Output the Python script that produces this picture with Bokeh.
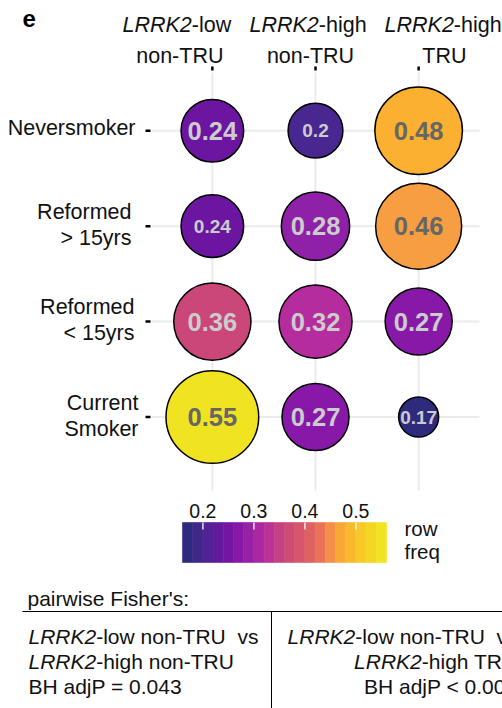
import numpy as np
from bokeh.plotting import figure
from bokeh.models import ColumnDataSource, Range1d, LinearColorMapper
from bokeh.transform import transform
from bokeh.core.properties import value
from bokeh.embed import file_html
from bokeh.resources import INLINE

# ---- data -------------------------------------------------------------
smoking = ["Neversmoker", "Reformed\n> 15yrs", "Reformed\n< 15yrs", "Current\nSmoker"]
groups = ["LRRK2-low non-TRU", "LRRK2-high non-TRU", "LRRK2-high TRU"]
gene = "LRRK2"

# row frequency of each smoking status within each group
freq_low_nontru = [0.24, 0.24, 0.36, 0.55]
freq_high_nontru = [0.20, 0.28, 0.32, 0.27]
freq_high_tru = [0.48, 0.46, 0.27, 0.17]

cbar_ticks = [0.2, 0.3, 0.4, 0.5]
cbar_title = ["row", "freq"]

fisher_title = "pairwise Fisher's:"
fisher_pairs = [("LRRK2-low non-TRU", "LRRK2-high non-TRU", "BH adjP = 0.043"),
                ("LRRK2-low non-TRU", "LRRK2-high TRU", "BH adjP < 0.001")]

# cells printed with a smaller label: (group index, status index)
small_cells = {(0, 1), (1, 0), (2, 3)}

all_freq = freq_low_nontru + freq_high_nontru + freq_high_tru
vmin, vmax = min(all_freq), max(all_freq)

# ---- colour scale: plasma in print tones --------------------------------
tone_stops = [0.0, 0.08, 0.18, 0.26, 0.29, 0.39, 0.50, 0.60, 0.68, 0.76, 0.82, 0.90, 1.0]
tone_cols = ["#2e2a7e", "#4a2790", "#6a15a0", "#8718a8", "#8f20a8", "#b42aa0",
             "#cb4878", "#da5a68", "#e86e5a", "#f69c42", "#fbb230", "#f9ca27", "#f0e321"]


def _rgb(h):
    return [int(h[i:i + 2], 16) for i in (1, 3, 5)]


_c = np.array([_rgb(h) for h in tone_cols], dtype=float)
_t = np.linspace(0, 1, 256)
palette = ["#%02x%02x%02x" % tuple(int(round(np.interp(t, tone_stops, _c[:, k]))) for k in range(3))
           for t in _t]
mapper = LinearColorMapper(palette=palette, low=vmin, high=vmax)

# area scale for bubble diameters (px)
D_MIN, D_MAX = 40.0, 92.7


def diameter(v):
    return D_MIN + (D_MAX - D_MIN) * np.sqrt((v - vmin) / (vmax - vmin))


# ---- long-form table ---------------------------------------------------
xs, ys, vs, ds, labs, fss, tcs = [], [], [], [], [], [], []
for gi, col in enumerate([freq_low_nontru, freq_high_nontru, freq_high_tru]):
    for si, v in enumerate(col):
        xs.append(gi)
        ys.append(si)
        vs.append(v)
        ds.append(diameter(v))
        labs.append(f"{v:g}")
        fss.append("19px" if (gi, si) in small_cells else "25.5px")
        tcs.append("#666666" if v >= 0.4 else "#cccccc")

src = ColumnDataSource(dict(x=xs, y=ys, v=vs, d=ds, lab=labs, fs=fss, tc=tcs))

FONT = "Liberation Sans"
INK = "#111111"


def mid(baseline, fs):
    """vertical centre of a text line whose alphabetic baseline is given (px)"""
    return baseline - 0.35 * fs


# ---- canvas -------------------------------------------------------------
W, H = 502, 708
p = figure(width=W, height=H, x_range=Range1d(0, W), y_range=Range1d(H, 0),
           output_backend="svg", toolbar_location=None, min_border=0,
           x_axis_type=None, y_axis_type=None, outline_line_color=None,
           background_fill_color="white", border_fill_color="white")

# bubble panel geometry (px) and its category scales
FL, FT, FW, FH = 151, 72, 328, 418
GX0, GX1 = -0.59, len(groups) - 1 + 0.59          # group axis limits
SY0, SY1 = -0.61, len(smoking) - 1 + 0.77         # status axis limits (top, bottom)
PX_G = FW / (GX1 - GX0)
PX_S = FH / (SY1 - SY0)
p.extra_x_ranges = {"grp": Range1d(GX0 - FL / PX_G, GX1 + (W - FL - FW) / PX_G)}
p.extra_y_ranges = {"status": Range1d(SY1 + (H - FT - FH) / PX_S, SY0 - FT / PX_S)}
CAT = dict(x_range_name="grp", y_range_name="status")

gidx = list(range(len(groups)))
sidx = list(range(len(smoking)))

# grid lines
p.segment(x0=gidx, x1=gidx, y0=[SY0] * len(gidx), y1=[SY1] * len(gidx),
          line_color="#ebebeb", line_width=2, **CAT)
p.segment(x0=[GX0] * len(sidx), x1=[GX1] * len(sidx), y0=sidx, y1=sidx,
          line_color="#ebebeb", line_width=2, **CAT)

# axis ticks
p.segment(x0=[GX0 - 6 / PX_G] * len(sidx), x1=[GX0 - 1 / PX_G] * len(sidx), y0=sidx, y1=sidx,
          line_color="black", line_width=2.5, **CAT)
p.segment(x0=gidx, x1=gidx, y0=[SY0 - 6 / PX_S] * len(gidx), y1=[SY0 - 2 / PX_S] * len(gidx),
          line_color="black", line_width=2.5, **CAT)

# bubbles and their labels
p.scatter(x="x", y="y", size="d", fill_color=transform("v", mapper),
          line_color="black", line_width=1.5, source=src, **CAT)
p.text(x="x", y="y", text="lab", text_font_size="fs", text_color="tc",
       text_align="center", text_baseline="middle", text_font=value(FONT),
       text_font_style="bold", source=src, **CAT)

# column headers: italic gene name + plain remainder
HFS = 21.5
HF = dict(text_font=value(FONT), text_font_size=f"{HFS}px", text_color=INK,
          text_baseline="middle", x_range_name="grp")
head_split_off = [-20.6, 3.3, 35.2]
head_line2_off = [-32.5, -5.0, 25.7]
firsts = [g.split(" ", 1)[0] for g in groups]
seconds = [g.split(" ", 1)[1] for g in groups]
y1, y2 = mid(32.3, HFS), mid(63.3, HFS)
p.text(x=gidx, y=[y1] * len(gidx), x_offset=head_split_off, text=[gene] * len(gidx),
       text_align="right", text_font_style="italic", **HF)
p.text(x=gidx, y=[y1] * len(gidx), x_offset=head_split_off,
       text=[f[len(gene):] for f in firsts], text_align="left", **HF)
p.text(x=gidx, y=[y2] * len(gidx), x_offset=head_line2_off, text=seconds,
       text_align="center", **HF)

# row labels, right aligned left of the panel
row_right = [135, 131, 134, 138]
rl_x, rl_y, rl_t = [], [], []
for si, s in enumerate(smoking):
    lines = s.split("\n")
    offs = [4.8] if len(lines) == 1 else [-6.6, 19.2]
    for line, o in zip(lines, offs):
        rl_x.append(row_right[si])
        rl_y.append(si + (o - 0.35 * HFS) / PX_S)
        rl_t.append(line)
p.text(x=rl_x, y=rl_y, text=rl_t, text_align="right", text_baseline="middle",
       text_font=value(FONT), text_font_size=f"{HFS}px", text_color=INK,
       y_range_name="status")

# panel letter
p.text(x=[22], y=[mid(26, 24)], text=["e"], text_font=value(FONT), text_font_style="bold",
       text_font_size="24px", text_align="left", text_baseline="middle",
       text_color="black")

# ---- colour bar ----------------------------------------------------------
NB = 20
band_vals = np.linspace(vmin, vmax, NB)
bw = (vmax - vmin) / (NB - 1)
lo, hi = vmin - bw / 2, vmax + bw / 2
BAR_L, BAR_R, BAR_T, BAR_B = 182, 386, 522, 562
span = (hi - lo) / (BAR_R - BAR_L)
p.extra_x_ranges["freq"] = Range1d(lo - BAR_L * span, hi + (W - BAR_R) * span)

bsrc = ColumnDataSource(dict(left=band_vals - bw / 2, right=band_vals + bw / 2, v=band_vals))
p.quad(left="left", right="right", top=BAR_T, bottom=BAR_B, source=bsrc,
       fill_color=transform("v", mapper), line_color=transform("v", mapper),
       line_width=0.6, x_range_name="freq")
p.segment(x0=cbar_ticks, x1=cbar_ticks, y0=[BAR_T] * len(cbar_ticks),
          y1=[BAR_T + 7] * len(cbar_ticks), line_color="white", line_alpha=0.85,
          line_width=1.5, x_range_name="freq")
p.text(x=cbar_ticks, y=[mid(517, 19.5)] * len(cbar_ticks), text=[f"{t:g}" for t in cbar_ticks],
       x_range_name="freq", text_align="center", text_baseline="middle",
       text_font=value(FONT), text_font_size="19.5px", text_color=INK)
p.text(x=[404, 404], y=[mid(535, 20.5), mid(558, 20.5)], text=cbar_title, text_align="left",
       text_baseline="middle", text_font=value(FONT), text_font_size="20.5px",
       text_color=INK)

# ---- pairwise test table --------------------------------------------------
TFS = 21
TF = dict(text_baseline="middle", text_font=value(FONT), text_font_size=f"{TFS}px",
          text_color=INK)
RULE_Y = 611
p.text(x=[27], y=[mid(605, TFS)], text=[fisher_title], text_align="left", **TF)
p.segment(x0=[22, 271], y0=[RULE_Y, RULE_Y], x1=[W, 271], y1=[RULE_Y, H],
          line_color="black", line_width=1)

base = [mid(b, TFS) for b in (643, 668, 693)]
W_GENE = 67.7
# left cell: left aligned
a, b, res = fisher_pairs[0]
p.text(x=[28, 28], y=base[:2], text=[gene, gene], text_align="left",
       text_font_style="italic", **TF)
p.text(x=[28 + W_GENE] * 2, y=base[:2],
       text=[a[len(gene):] + " \u00a0vs", b[len(gene):]], text_align="left", **TF)
p.text(x=[28], y=[base[2]], text=[res], text_align="left", **TF)
# right cell: right aligned (runs past the edge)
a, b, res = fisher_pairs[1]
RX = 517
rest_w = [162.2, 95.7]
p.text(x=[RX, RX], y=base[:2], text=[a[len(gene):] + " \u00a0vs", b[len(gene):]],
       text_align="right", **TF)
p.text(x=[RX - rest_w[0], RX - rest_w[1]], y=base[:2], text=[gene, gene],
       text_align="right", text_font_style="italic", **TF)
p.text(x=[RX], y=[base[2]], text=[res], text_align="right", **TF)

open("out.html", "w").write(file_html(p, INLINE))
